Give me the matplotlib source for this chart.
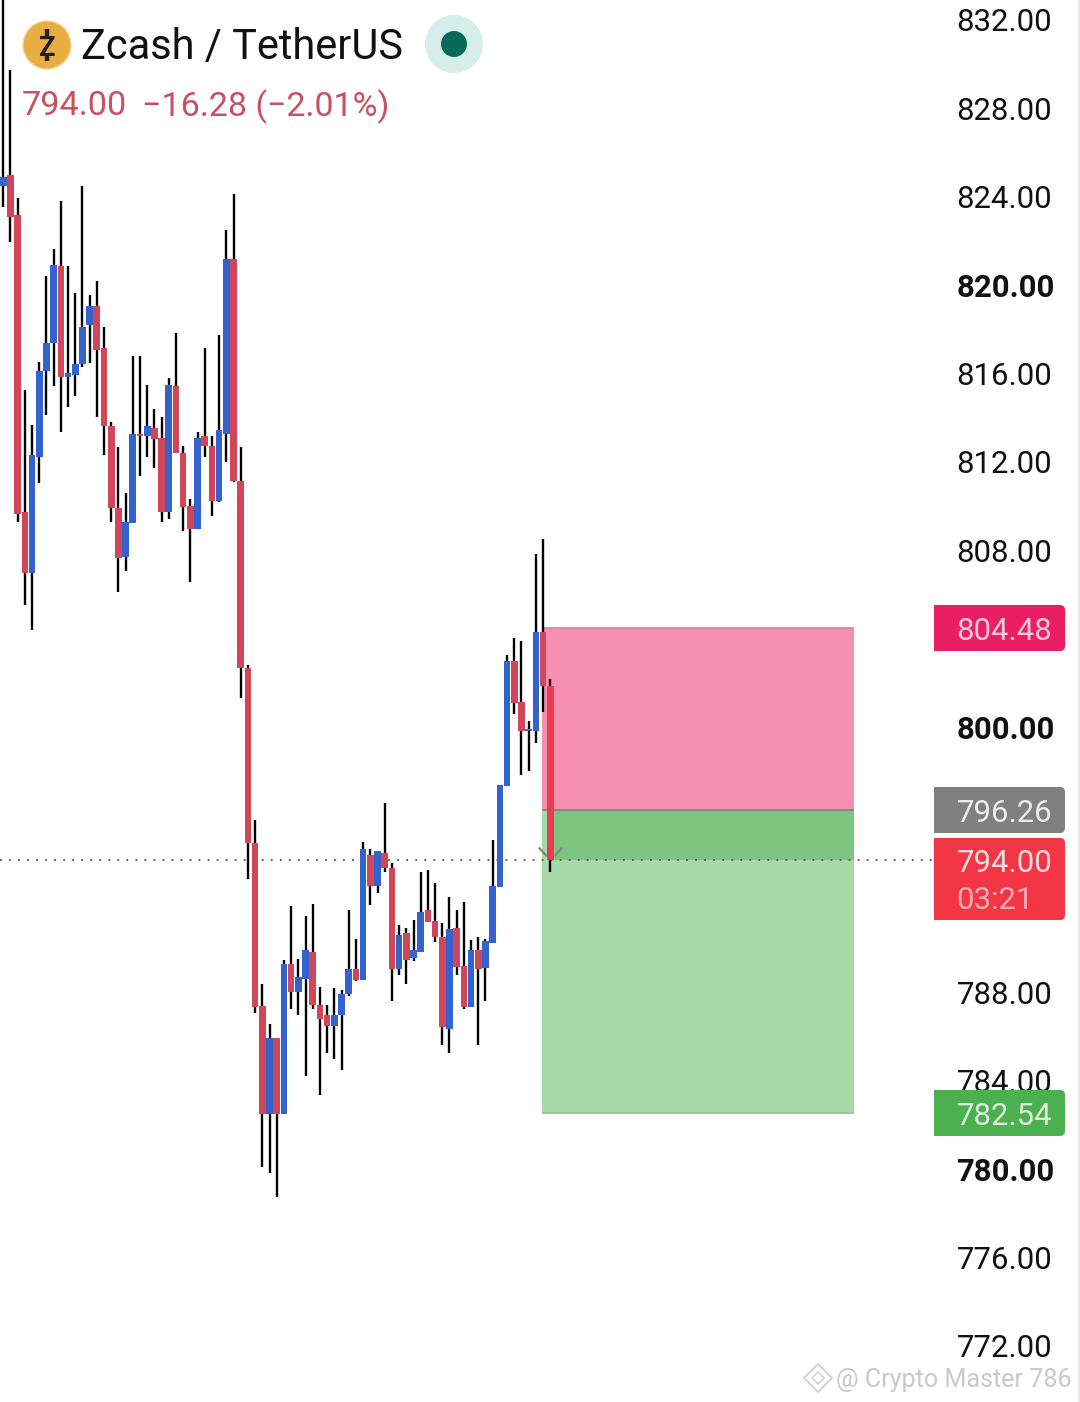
import matplotlib
matplotlib.use("Agg")
import matplotlib.pyplot as plt
from matplotlib.patches import Circle, FancyBboxPatch, Rectangle
from matplotlib.path import Path
from matplotlib.transforms import Affine2D

# -----------------------
# DATA
# -----------------------
opens = [824.48, 824.98, 823.21, 809.73, 807.01, 812.26, 816.11, 817.42, 820.90, 815.88, 815.93,
         816.47, 818.23, 819.05, 817.15, 813.66, 809.95, 807.73, 809.27, 813.30, 813.21, 813.57,
         813.12, 809.77, 815.47, 812.44, 810.04, 808.96, 813.17, 812.76, 810.27, 813.30, 821.22,
         811.17, 802.71, 794.79, 787.42, 782.49, 785.93, 782.49, 789.32, 788.05, 788.64, 789.82,
         787.46, 786.97, 786.51, 787.01, 787.96, 789.09, 788.59, 794.25, 792.85, 794.30, 793.66,
         789.09, 790.68, 789.59, 789.86, 791.76, 791.26, 790.54, 786.38, 790.95, 789.23, 787.37,
         789.91, 789.14, 790.27, 792.80, 797.37, 803.03, 801.17, 799.82, 799.86, 804.34, 801.90]
highs = [833.60, 829.73, 823.98, 815.25, 813.71, 816.56, 820.45, 821.63, 823.84, 820.86, 819.64,
         824.48, 819.59, 820.22, 818.10, 813.84, 812.71, 810.59, 816.83, 816.83, 815.52, 814.39,
         814.03, 815.83, 817.83, 812.76, 810.36, 813.39, 817.15, 813.17, 817.78, 822.53, 824.12,
         812.67, 802.85, 795.83, 788.41, 786.60, 785.93, 789.50, 791.94, 789.54, 791.49, 792.03,
         788.28, 787.46, 788.23, 788.14, 791.72, 790.45, 794.84, 794.52, 794.39, 796.60, 793.89,
         791.08, 790.95, 791.31, 793.48, 793.57, 792.98, 791.17, 792.35, 791.76, 792.12, 790.40,
         790.54, 790.45, 794.93, 797.42, 803.30, 804.03, 803.93, 800.31, 807.83, 808.55, 802.21]
lows = [823.57, 821.99, 809.32, 805.56, 804.43, 811.08, 814.12, 815.43, 813.39, 814.48, 815.02,
        816.29, 816.51, 814.03, 812.35, 809.32, 806.15, 807.06, 809.27, 811.36, 812.22, 811.76,
        809.32, 809.45, 812.40, 808.87, 806.60, 808.96, 812.26, 809.59, 810.22, 812.03, 811.13,
        801.35, 793.16, 787.10, 780.13, 779.82, 778.77, 782.49, 787.24, 787.01, 784.21, 787.24,
        783.35, 785.25, 785.02, 784.48, 787.83, 788.55, 788.59, 791.99, 792.49, 793.44, 787.64,
        788.82, 788.41, 789.45, 789.86, 791.22, 790.31, 785.65, 785.25, 788.78, 787.28, 787.37,
        785.65, 787.64, 790.27, 792.80, 797.37, 800.59, 797.87, 798.05, 799.32, 800.72, 793.48]
closes = [824.89, 823.08, 809.68, 806.97, 812.31, 816.11, 817.42, 820.95, 815.88, 816.02, 816.47,
          818.14, 819.09, 817.06, 813.62, 809.91, 807.69, 809.32, 813.30, 813.17, 813.62, 813.07,
          809.77, 815.52, 812.44, 810.00, 808.98, 813.12, 812.76, 810.27, 813.44, 821.22, 811.17,
          802.67, 794.79, 787.37, 782.53, 785.97, 782.49, 789.32, 788.05, 788.69, 789.95, 787.46,
          786.83, 786.51, 787.01, 787.96, 789.09, 788.59, 794.48, 792.85, 794.39, 793.62, 789.09,
          790.63, 789.50, 789.91, 791.63, 791.22, 790.50, 786.47, 790.90, 789.18, 787.37, 789.91,
          789.09, 790.36, 792.85, 797.42, 803.03, 801.13, 799.82, 799.95, 804.30, 801.90, 794.00]

tick_prices = [832, 828, 824, 820, 816, 812, 808, 800, 788, 784, 780, 776, 772]
bold_prices = [820, 800, 780]

last_price = 794.00
stop_price = 804.48
entry_price = 796.26
target_price = 782.54

# -----------------------
# SETTINGS
# -----------------------
W, H = 1080, 1402
FONT = "Roboto"
RED = "#D0465A"
BLUE = "#3563CE"
LAST_RED = "#EC3B50"

# price scale: 22.1 px per unit, 820 sits at y=286
PX_PER_UNIT = 22.1


def price_to_y(price):
    return 285.5 + (820 - price) * PX_PER_UNIT


fig = plt.figure(figsize=(W / 100, H / 100), dpi=100, facecolor="white")
ax = fig.add_axes([0, 0, 1, 1])
ax.set_axis_off()
ax.set_xlim(-0.45, 149.6)
ax.set_ylim(820 - (H - 285.5) / PX_PER_UNIT, 820 + 285.5 / PX_PER_UNIT)

# top-left pixel coords for header and badges
px = Affine2D().scale(1, -1).translate(0, H)

# -----------------------
# RISK / REWARD BOX
# -----------------------
last_idx = len(closes) - 1
box_left = 74.82
box_right = 118.17
ax.add_patch(Rectangle((box_left, entry_price), box_right - box_left, stop_price - entry_price,
                       facecolor="#F48FB1", edgecolor="none", zorder=1))
ax.add_patch(Rectangle((box_left, target_price), box_right - box_left, entry_price - target_price,
                       facecolor="#A7D8A8", edgecolor="none", zorder=1))
ax.add_patch(Rectangle((last_idx, last_price), box_right - last_idx, entry_price - last_price,
                       facecolor="#7CC47F", edgecolor="none", zorder=1.5))
ax.hlines(stop_price, box_left, box_right, color="#DC7F9E", lw=1.2, zorder=2)
ax.hlines(entry_price, box_left, box_right, color="#7F8C7F", lw=1.4, zorder=2)
ax.hlines(target_price, box_left, box_right, color="#8FC592", lw=1.2, zorder=2)

# -----------------------
# LAST PRICE LINE
# -----------------------
ax.plot([-0.45, 129.3], [last_price, last_price], color="#5E4A4E", lw=1.3,
        linestyle=(0, (1, 4.0)), zorder=2.5)

# -----------------------
# CANDLES
# -----------------------
for i in range(len(opens)):
    up = closes[i] >= opens[i]
    color = BLUE if up else RED
    if i == last_idx:
        color = LAST_RED
    ax.vlines(i, lows[i], highs[i], color="black", lw=1.7, zorder=3)
    ax.bar(i, abs(closes[i] - opens[i]), bottom=min(opens[i], closes[i]), width=0.92,
           color=color, edgecolor="none", zorder=4)

# small grey chevron under the last bar
chevron = Path([(-1.6, 1.8), (-0.55, 0.6), (1.6, 1.8), (0.55, 0.6)],
               [Path.MOVETO, Path.LINETO, Path.MOVETO, Path.LINETO])
ax.plot(last_idx, last_price, marker=chevron, markersize=18.7, markerfacecolor="none",
        markeredgecolor="#7C8A7C", markeredgewidth=1.6, zorder=5)

# -----------------------
# PRICE AXIS LABELS
# -----------------------
for p in tick_prices:
    bold = p in bold_prices
    ax.text(956.5, price_to_y(p) - 0.5, f"{p:.2f}", transform=px, family=FONT, fontsize=22.4,
            fontweight="bold" if bold else "normal", color="#111111",
            ha="left", va="center_baseline", zorder=6)


def badge(top, bottom, color):
    top = round(top)
    bottom = round(bottom)
    body = FancyBboxPatch((934, top), 131, bottom - top, boxstyle="round,pad=0,rounding_size=5",
                          transform=px, facecolor=color, edgecolor="none", zorder=7, snap=False)
    ax.add_patch(body)
    ax.add_patch(Rectangle((934, top), 20, bottom - top, transform=px,
                           facecolor=color, edgecolor="none", zorder=7, snap=False))


def badge_text(y, label, color):
    ax.text(956.5, y, label, transform=px, family=FONT, fontsize=22.4, color=color,
            ha="left", va="center_baseline", zorder=8)


badge(price_to_y(stop_price) - 23, price_to_y(stop_price) + 23, "#E91E63")
badge_text(price_to_y(stop_price), f"{stop_price:.2f}", "#F9C9D9")
badge(price_to_y(entry_price) - 23, price_to_y(entry_price) + 23, "#808080")
badge_text(price_to_y(entry_price), f"{entry_price:.2f}", "#ECECEC")
badge(price_to_y(last_price) - 22, price_to_y(last_price) + 60, "#F23645")
badge_text(price_to_y(last_price), f"{last_price:.2f}", "#FBDDE0")
badge_text(price_to_y(last_price) + 37, "03:21", "#F9AAB2")
badge(price_to_y(target_price) - 23, price_to_y(target_price) + 23, "#4CAF50")
badge_text(price_to_y(target_price), f"{target_price:.2f}", "#DDF0DE")

# -----------------------
# HEADER
# -----------------------
ax.add_patch(Circle((47, 45), 24, transform=px, facecolor="#E9AE43", edgecolor="#F4D79A", lw=1, zorder=7))
ax.plot([47, 47], [29, 37], transform=px, color="#222222", lw=3.2, solid_capstyle="butt", zorder=8)
ax.plot([47, 47], [53, 61], transform=px, color="#222222", lw=3.2, solid_capstyle="butt", zorder=8)
ax.text(47, 45, "Z", transform=px, family=FONT, fontsize=19.5, fontweight="bold", color="#222222",
        ha="center", va="center_baseline", zorder=8)
ax.text(81, 42.5, "Zcash / TetherUS", transform=px, family=FONT, fontsize=29.9, color="#111111",
        ha="left", va="center_baseline", zorder=8)
ax.text(21.5, 102.5, "794.00", transform=px, family=FONT, fontsize=24.7, color="#C8505F",
        ha="left", va="center_baseline", zorder=8)
ax.text(142.5, 102.5, "\u221216.28 (\u22122.01%)", transform=px, family=FONT, fontsize=24.5, color="#C8505F",
        ha="left", va="center_baseline", zorder=8)
ax.add_patch(Circle((454, 44), 29, transform=px, facecolor="#D6EEEA", edgecolor="none", zorder=7))
ax.add_patch(Circle((454, 44), 13, transform=px, facecolor="#07695A", edgecolor="none", zorder=8))

# -----------------------
# WATERMARK
# -----------------------
ax.text(836, 1377, "@ Crypto Master 786", transform=px, family=FONT, fontsize=18.1, color="#C9C9C9",
        ha="left", va="center_baseline", zorder=9)
ax.plot([818], [1378], transform=px, marker="D", markersize=14, markerfacecolor="none",
        markeredgecolor="#D2D2D2", markeredgewidth=1.4, zorder=9)
ax.plot([818], [1378], transform=px, marker="D", markersize=6, markerfacecolor="none",
        markeredgecolor="#D2D2D2", markeredgewidth=1.2, zorder=9)

# thin edge on the right of the screenshot
ax.plot([1078.5, 1078.5], [0, H], transform=px, color="#E4E4E4", lw=1.2, zorder=9)

plt.savefig("out.png", dpi=100)
print("Chart saved successfully")
